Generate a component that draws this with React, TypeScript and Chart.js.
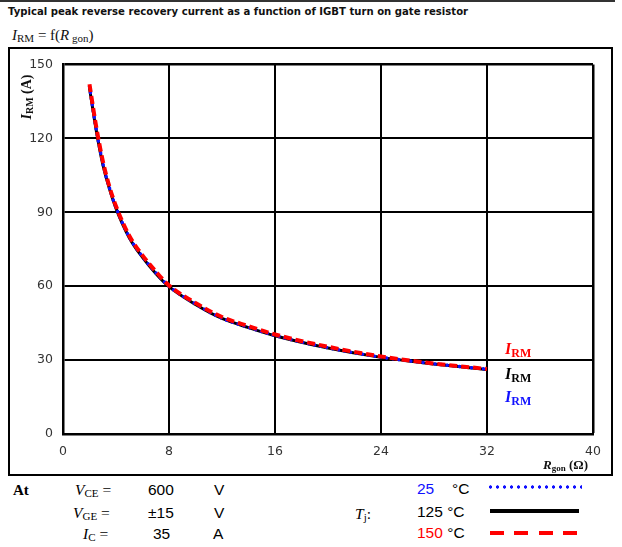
import React, { useEffect, useRef } from "react";
import { Chart, registerables } from "chart.js";

Chart.register(...registerables);

// ---- data ----
const rgon = [2, 2.5, 3, 3.5, 4, 5, 6, 7, 8, 10, 12, 14, 16, 20, 24, 28, 32];
const irm25 = [141, 124, 110, 100, 92, 80, 72, 65.5, 60, 52.8, 47, 43.3, 40, 35, 31.2, 28.5, 26.3];
const irm125 = [140.5, 123.5, 109.5, 99.6, 91.6, 79.7, 71.7, 65.2, 59.8, 52.6, 46.9, 43.2, 39.9, 34.9, 31.1, 28.4, 26.2];
const irm150 = [142, 125, 111, 100.5, 92.5, 80.5, 72.5, 66, 60.3, 53.2, 47.5, 43.8, 40.4, 35.4, 31.5, 28.6, 26.4];
const xTicks = [0, 8, 16, 24, 32, 40];
const yTicks = [0, 30, 60, 90, 120, 150];

const SERIF = '"Liberation Serif", "DejaVu Serif", serif';
const SANS = '"Liberation Sans", Arial, sans-serif';
const VERD = '"DejaVu Sans", Verdana, sans-serif';
const RED = "#ff0000";
const BLUE = "#1010ff";

function Txt(props: { x: number; y: number; children: any; style?: any }) {
  return (
    <div
      style={{
        position: "absolute",
        left: props.x,
        top: props.y,
        transform: "translateY(-50%)",
        lineHeight: 1,
        whiteSpace: "nowrap",
        ...(props.style || {}),
      }}
    >
      {props.children}
    </div>
  );
}

const subStyle = (size: number, drop: number) => ({
  fontSize: size,
  position: "relative" as const,
  top: drop,
});

export default function App() {
  const ref = useRef<HTMLCanvasElement | null>(null);

  useEffect(() => {
    if (!ref.current) return;
    const toXY = (ys: number[]) => rgon.map((x, i) => ({ x, y: ys[i] }));
    const chart = new Chart(ref.current, {
      type: "line",
      data: {
        datasets: [
          {
            label: "150 °C",
            data: toXY(irm150),
            borderColor: RED,
            borderWidth: 4,
            borderDash: [8, 4],
            pointRadius: 0,
            cubicInterpolationMode: "monotone",
            fill: false,
          },
          {
            label: "25 °C",
            data: toXY(irm25),
            borderColor: BLUE,
            borderWidth: 3.5,
            borderDash: [0.1, 6],
            borderCapStyle: "round",
            pointRadius: 0,
            cubicInterpolationMode: "monotone",
            fill: false,
          },
          {
            label: "125 °C",
            data: toXY(irm125),
            borderColor: "#000",
            borderWidth: 3,
            pointRadius: 0,
            cubicInterpolationMode: "monotone",
            fill: false,
          },
        ],
      },
      options: {
        animation: false,
        responsive: false,
        maintainAspectRatio: false,
        layout: { padding: { top: 15, right: 20, bottom: 0, left: 0 } },
        plugins: { legend: { display: false }, tooltip: { enabled: false } },
        scales: {
          x: {
            type: "linear",
            min: 0,
            max: 40,
            afterBuildTicks: (s: any) => {
              s.ticks = xTicks.map((v) => ({ value: v }));
            },
            afterFit: (s: any) => {
              s.height = 42;
            },
            grid: {
              color: "#000",
              lineWidth: (c: any) => (c.tick && c.tick.value === 40 ? 2.5 : 2),
              drawTicks: false,
            },
            border: { color: "#000", width: 2.5 },
            ticks: {
              padding: 10,
              color: "#333",
              maxRotation: 0,
              font: { family: "DejaVu Sans", size: 12.5 },
            },
          },
          y: {
            type: "linear",
            min: 0,
            max: 150,
            afterBuildTicks: (s: any) => {
              s.ticks = yTicks.map((v) => ({ value: v }));
            },
            afterFit: (s: any) => {
              s.width = 55;
            },
            grid: {
              color: "#000",
              lineWidth: (c: any) => (c.tick && c.tick.value === 150 ? 2.5 : 2),
              drawTicks: false,
            },
            border: { color: "#000", width: 2.5 },
            ticks: {
              padding: 10,
              color: "#333",
              font: { family: "DejaVu Sans", size: 12.5 },
            },
          },
        },
      },
    } as any);
    return () => chart.destroy();
  }, []);

  const irmLabel = (color: string) => (
    <span style={{ color, fontFamily: SERIF, fontWeight: "bold", fontSize: 16 }}>
      <i>I</i>
      <span style={subStyle(12, 3)}>RM</span>
    </span>
  );

  return (
    <div
      style={{
        position: "absolute",
        left: 0,
        top: 0,
        width: 622,
        height: 547,
        background: "#fff",
        overflow: "hidden",
      }}
    >
      {/* top rule */}
      <div style={{ position: "absolute", left: 0, top: 0, width: 615, height: 2, background: "#333" }} />
      <Txt x={8} y={12} style={{ fontFamily: VERD, fontWeight: "bold", fontSize: 10.1, color: "#111" }}>
        Typical peak reverse recovery current as a function of IGBT turn on gate resistor
      </Txt>
      <Txt x={12} y={35} style={{ fontFamily: SERIF, fontSize: 15, color: "#111" }}>
        <i>I</i>
        <span style={subStyle(11, 2)}>RM</span> = f(<i>R</i>
        <span style={subStyle(11, 2)}> gon</span>)
      </Txt>

      <canvas
        ref={ref}
        width={605}
        height={429}
        style={{ position: "absolute", left: 8, top: 47, width: 605, height: 429 }}
      />
      <div
        style={{
          position: "absolute",
          left: 8,
          top: 47,
          width: 605,
          height: 429,
          border: "2px solid #000",
          boxSizing: "border-box",
          pointerEvents: "none",
        }}
      />

      {/* y axis title */}
      <div
        style={{
          position: "absolute",
          left: 27,
          top: 97,
          transform: "translate(-50%, -50%) rotate(-90deg)",
          whiteSpace: "nowrap",
          lineHeight: 1,
          fontFamily: SERIF,
          fontWeight: "bold",
          fontSize: 14,
          color: "#111",
        }}
      >
        <i>I</i>
        <span style={subStyle(10, 2)}>RM</span> (A)
      </div>

      {/* x axis title */}
      <Txt x={543} y={464} style={{ fontFamily: SERIF, fontWeight: "bold", fontSize: 13, color: "#111" }}>
        <i>R</i>
        <span style={subStyle(9, 2)}>gon</span> (Ω)
      </Txt>

      {/* curve labels */}
      <Txt x={505} y={349}>{irmLabel(RED)}</Txt>
      <Txt x={505} y={374}>{irmLabel("#000")}</Txt>
      <Txt x={505} y={397}>{irmLabel(BLUE)}</Txt>

      {/* conditions */}
      <Txt x={13} y={490} style={{ fontFamily: SERIF, fontWeight: "bold", fontSize: 15 }}>At</Txt>
      <Txt x={75} y={490} style={{ fontFamily: SERIF, fontSize: 15.5 }}>
        <i>V</i>
        <span style={subStyle(11, 2)}>CE</span> =
      </Txt>
      <Txt x={73} y={513} style={{ fontFamily: SERIF, fontSize: 15.5 }}>
        <i>V</i>
        <span style={subStyle(11, 2)}>GE</span> =
      </Txt>
      <Txt x={83} y={534} style={{ fontFamily: SERIF, fontSize: 15.5 }}>
        <i>I</i>
        <span style={subStyle(11, 2)}>C</span> =
      </Txt>
      <Txt x={148} y={490} style={{ fontFamily: SANS, fontSize: 15.5 }}>600</Txt>
      <Txt x={148} y={513} style={{ fontFamily: SANS, fontSize: 15.5 }}>±15</Txt>
      <Txt x={153} y={534} style={{ fontFamily: SANS, fontSize: 15.5 }}>35</Txt>
      <Txt x={214} y={490} style={{ fontFamily: SANS, fontSize: 15.5 }}>V</Txt>
      <Txt x={214} y={513} style={{ fontFamily: SANS, fontSize: 15.5 }}>V</Txt>
      <Txt x={213} y={534} style={{ fontFamily: SANS, fontSize: 15.5 }}>A</Txt>

      <Txt x={355} y={514} style={{ fontFamily: SERIF, fontSize: 15.5 }}>
        <i>T</i>
        <span style={subStyle(11, 2)}>j</span>:
      </Txt>
      <Txt x={417} y={489} style={{ fontFamily: SANS, fontSize: 15.5, color: BLUE }}>25</Txt>
      <Txt x={452} y={489} style={{ fontFamily: SANS, fontSize: 15.5 }}>°C</Txt>
      <Txt x={417} y={512} style={{ fontFamily: SANS, fontSize: 15.5 }}>125 °C</Txt>
      <Txt x={417} y={533} style={{ fontFamily: SANS, fontSize: 15.5 }}>
        <span style={{ color: RED }}>150</span> °C
      </Txt>

      {/* legend line samples */}
      <div
        style={{
          position: "absolute",
          left: 487,
          top: 485,
          width: 95,
          height: 4,
          backgroundImage: `radial-gradient(circle, ${BLUE} 1.4px, transparent 1.9px)`,
          backgroundSize: "7px 4px",
          backgroundRepeat: "repeat-x",
        }}
      />
      <div style={{ position: "absolute", left: 490, top: 509, width: 89, height: 4, background: "#000" }} />
      <div
        style={{
          position: "absolute",
          left: 490,
          top: 531,
          width: 88,
          height: 4,
          backgroundImage: `repeating-linear-gradient(to right, ${RED} 0px, ${RED} 14px, transparent 14px, transparent 24.5px)`,
        }}
      />
    </div>
  );
}
